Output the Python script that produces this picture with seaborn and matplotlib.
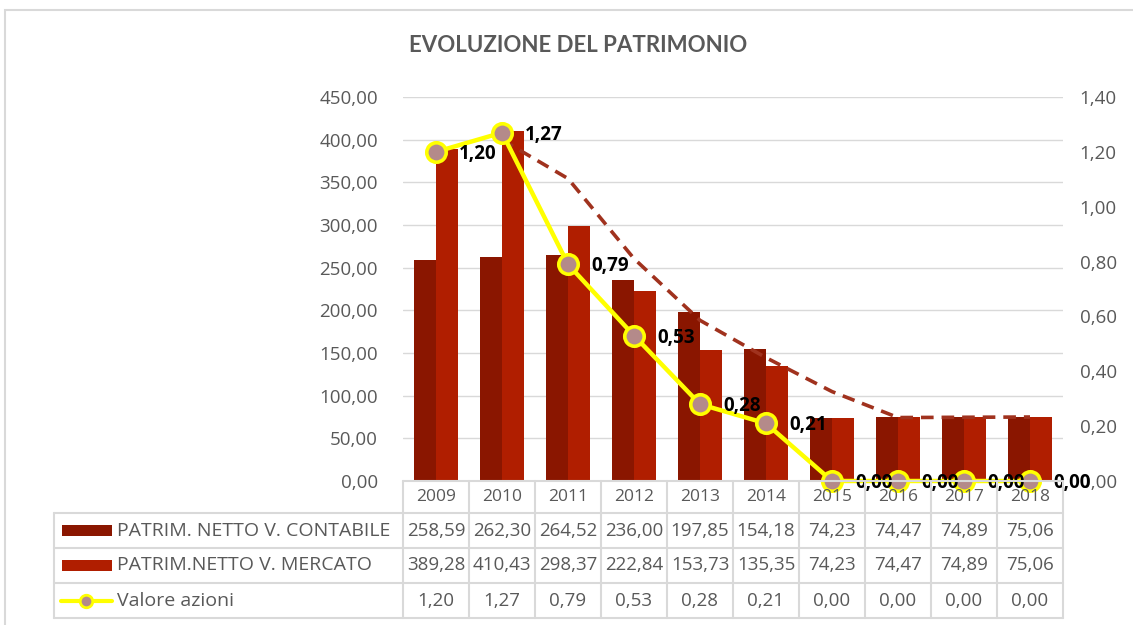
""" Evoluzione del patrimonio: bars + share value line + data table """

import matplotlib
matplotlib.use('Agg')
import matplotlib.pyplot as plt
from matplotlib.lines import Line2D
from matplotlib.patches import Rectangle
from matplotlib.ticker import FuncFormatter, MultipleLocator
import numpy as np
import pandas as pd
import seaborn as sns

YEARS = ['2009', '2010', '2011', '2012', '2013', '2014', '2015', '2016', '2017', '2018']
CONTABILE = [258.59, 262.30, 264.52, 236.00, 197.85, 154.18, 74.23, 74.47, 74.89, 75.06]
MERCATO = [389.28, 410.43, 298.37, 222.84, 153.73, 135.35, 74.23, 74.47, 74.89, 75.06]
AZIONI = [1.20, 1.27, 0.79, 0.53, 0.28, 0.21, 0.00, 0.00, 0.00, 0.00]
SERIES = ['PATRIM. NETTO V. CONTABILE', 'PATRIM.NETTO V. MERCATO', 'Valore azioni']

W, H = 1133, 625
GREY = '#595959'
GRID = '#d9d9d9'
DARK = '#8a1600'
RED = '#b01e00'
TREND = '#a0321e'
YELLOW = '#ffff00'
MARKER = '#b48a8a'
BODY = ['Open Sans', 'DejaVu Sans']


def fx(px):
    return px / W


def fy(py):
    return 1 - py / H


def comma(v, _=None):
    return f'{v:.2f}'.replace('.', ',')


def draw():
    sns.set_style('white')
    plt.rcParams['font.family'] = BODY

    df = pd.DataFrame({
        'anno': YEARS * 2,
        'valore': CONTABILE + MERCATO,
        'serie': [SERIES[0]] * len(YEARS) + [SERIES[1]] * len(YEARS),
    })

    fig = plt.figure(figsize=(W / 100, H / 100), dpi=100)
    fig.add_artist(Rectangle((fx(5), fy(700)), fx(1200), fy(10) - fy(700),
                             transform=fig.transFigure, fill=False,
                             edgecolor=GRID, linewidth=1.5))

    x0, x1, ytop, ybot = 403, 1063, 97, 481
    ax = fig.add_axes([fx(x0), fy(ybot), fx(x1 - x0), fy(ytop) - fy(ybot)])
    sns.barplot(data=df, x='anno', y='valore', hue='serie', palette=[DARK, RED],
                width=0.667, gap=0, saturation=1, legend=False, ax=ax, zorder=2)
    for patch in ax.patches:
        patch.set_linewidth(0)

    # 2-period moving average of the market value
    merc = np.array(MERCATO)
    mov = (merc[1:] + merc[:-1]) / 2
    ax.plot(np.arange(1, len(YEARS)), mov, color=TREND, linewidth=2.6,
            linestyle=(0, (3.5, 2.2)), zorder=3)

    ax.set_xlim(-0.5, len(YEARS) - 0.5)
    ax.set_ylim(0, 450)
    ax.yaxis.set_major_locator(MultipleLocator(50))
    ax.yaxis.set_major_formatter(FuncFormatter(comma))
    ax.grid(axis='y', color=GRID, linewidth=1, zorder=0)
    ax.set_axisbelow(True)
    for s in ax.spines.values():
        s.set_visible(False)
    ax.set_xticks([])
    ax.set_xlabel('')
    ax.set_ylabel('')
    ax.tick_params(axis='y', length=0, pad=18, labelsize=13.5, labelcolor=GREY)

    ax2 = ax.twinx()
    ax2.plot(np.arange(len(YEARS)), AZIONI, color=YELLOW, linewidth=3.2,
             marker='o', markersize=14, markerfacecolor=MARKER,
             markeredgecolor=YELLOW, markeredgewidth=2.6, zorder=5, clip_on=False)
    for i, v in enumerate(AZIONI):
        ax2.annotate(comma(v), (i, v), xytext=(23, -2), textcoords='offset pixels',
                     ha='left', va='center', fontsize=13.5, fontweight='bold',
                     color='black', zorder=6, annotation_clip=False)
    ax2.set_ylim(0, 1.40)
    ax2.yaxis.set_major_locator(MultipleLocator(0.2))
    ax2.yaxis.set_major_formatter(FuncFormatter(comma))
    for s in ax2.spines.values():
        s.set_visible(False)
    ax2.tick_params(axis='y', length=0, pad=12, labelsize=13.5, labelcolor=GREY)
    ax2.set_zorder(ax.get_zorder() + 1)
    ax2.patch.set_visible(False)

    fig.text(fx(578), fy(45), 'EVOLUZIONE DEL PATRIMONIO', ha='center', va='center',
             fontsize=16, fontweight='bold', color=GREY, family=['Lato', 'DejaVu Sans'])

    # data table
    col_w = (x1 - x0) / len(YEARS)
    rows = [481, 513, 548, 583, 618]
    left = 54

    def hline(xa, xb, y):
        fig.add_artist(Line2D([fx(xa), fx(xb)], [fy(y), fy(y)], color=GRID,
                              linewidth=1.5, transform=fig.transFigure))

    def vline(x, ya, yb):
        fig.add_artist(Line2D([fx(x), fx(x)], [fy(ya), fy(yb)], color=GRID,
                              linewidth=1.5, transform=fig.transFigure))

    hline(x0, x1, rows[0])
    for y in rows[1:]:
        hline(left, x1, y)
    vline(left, rows[1], rows[-1])
    for i in range(len(YEARS) + 1):
        vline(x0 + i * col_w, rows[0], rows[-1])

    table_vals = [YEARS, [comma(v) for v in CONTABILE], [comma(v) for v in MERCATO],
                  [comma(v) for v in AZIONI]]
    for r, vals in enumerate(table_vals):
        yc = (rows[r] + rows[r + 1]) / 2
        for i, txt in enumerate(vals):
            fig.text(fx(x0 + (i + 0.5) * col_w), fy(yc), txt, ha='center', va='center',
                     fontsize=12.5 if r == 0 else 13.5, color=GREY)
        if r > 0:
            fig.text(fx(117), fy(yc), SERIES[r - 1], ha='left', va='center',
                     fontsize=14, color=GREY)

    for r, color in zip([1, 2], [DARK, RED]):
        yc = (rows[r] + rows[r + 1]) / 2
        fig.add_artist(Rectangle((fx(62), fy(yc + 5)), fx(50), fy(yc - 6) - fy(yc + 5),
                                 transform=fig.transFigure, facecolor=color,
                                 edgecolor='none'))
    yc = (rows[3] + rows[4]) / 2
    fig.add_artist(Line2D([fx(61), fx(112)], [fy(yc), fy(yc)], color=YELLOW,
                          linewidth=3, transform=fig.transFigure))
    fig.add_artist(Line2D([fx(86)], [fy(yc)], marker='o', markersize=9,
                          markerfacecolor=MARKER, markeredgecolor=YELLOW,
                          markeredgewidth=2, transform=fig.transFigure))

    fig.savefig('out.png', dpi=100, facecolor='white')


if __name__ == '__main__':
    draw()
